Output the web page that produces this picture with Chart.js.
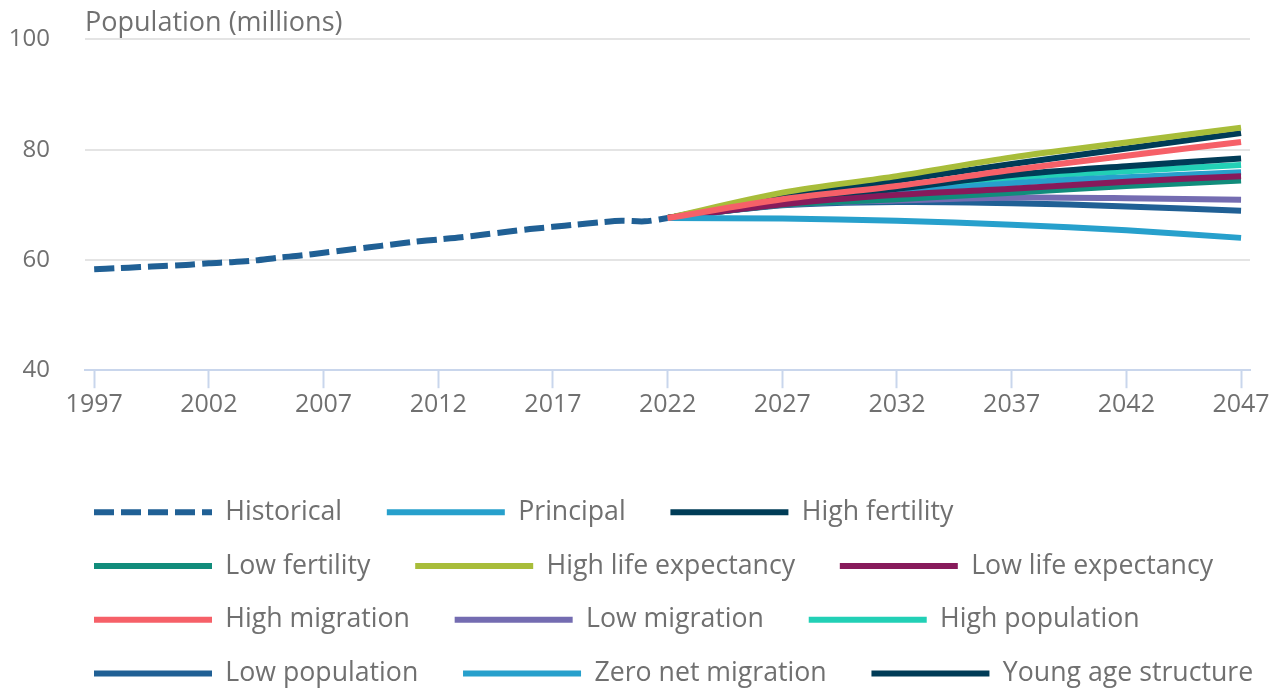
<!DOCTYPE html>
<html>
<head>
<meta charset="utf-8">
<script src="https://cdn.jsdelivr.net/npm/chart.js@4"></script>
<style>
  html, body { margin: 0; padding: 0; background: #fff; }
  #wrap { width: 1277px; height: 690px; }
</style>
</head>
<body>
<div id="wrap"><canvas id="myChart"></canvas></div>
<script>
// population, millions
const histYears = [1997, 1998, 1999, 2000, 2001, 2002, 2003, 2004, 2005, 2006, 2007, 2008, 2009,
  2010, 2011, 2012, 2013, 2014, 2015, 2016, 2017, 2018, 2019, 2020, 2021, 2022];
const historical = [58.3, 58.5, 58.7, 58.9, 59.1, 59.4, 59.6, 59.9, 60.4, 60.8, 61.3, 61.8, 62.3,
  62.8, 63.3, 63.7, 64.1, 64.6, 65.1, 65.6, 66.0, 66.4, 66.8, 67.1, 67.0, 67.6];

const projYears = [2022, 2027, 2032, 2037, 2042, 2047];
const principal = [67.6, 70.5, 72.2, 73.9, 75.0, 75.9];
const highFertility = [67.6, 70.8, 72.9, 75.4, 77.0, 78.4];
const lowFertility = [67.6, 70.0, 71.0, 72.2, 73.4, 74.4];
const highLifeExp = [67.6, 72.2, 75.2, 78.6, 81.3, 84.0];
const lowLifeExp = [67.6, 70.1, 71.8, 72.9, 74.2, 75.2];
const highMigration = [67.6, 71.0, 73.4, 76.3, 78.9, 81.4];
const lowMigration = [67.6, 70.0, 70.8, 71.3, 71.2, 70.9];
const highPopulation = [67.6, 70.8, 73.0, 74.9, 76.1, 77.2];
const lowPopulation = [67.6, 69.9, 70.5, 70.3, 69.7, 68.9];
const zeroNetMigration = [67.6, 67.5, 67.1, 66.4, 65.4, 64.0];
const youngAgeStructure = [67.6, 71.6, 74.4, 77.4, 80.2, 83.0];

const tickYears = [1997, 2002, 2007, 2012, 2017, 2022, 2027, 2032, 2037, 2042, 2047];
const yTicks = [40, 60, 80, 100];

const textColor = "#707070";
const fontFamily = "'Open Sans', sans-serif";

const toPoints = (xs, ys) => xs.map((x, i) => ({ x: x, y: ys[i] }));

const proj = (label, values, color, order) => ({
  label: label,
  data: toPoints(projYears, values),
  borderColor: color,
  backgroundColor: color,
  borderWidth: 6,
  pointRadius: 0,
  tension: 0.3,
  order: order,
});

// move the legend block so rows start under the plot, like the original
const legendShift = {
  id: "legendShift",
  afterLayout(chart) {
    const lg = chart.legend;
    const h = lg.height;
    lg.left = 67;
    lg.right = 1313;
    lg.top = 472;
    lg.bottom = lg.top + h;
  },
};

const ctx = document.getElementById("myChart").getContext("2d");

const myChart = new Chart(ctx, {
  type: "line",
  data: {
    datasets: [
      {
        label: "Historical",
        data: toPoints(histYears, historical),
        borderColor: "#206095",
        backgroundColor: "#206095",
        borderWidth: 6,
        borderDash: [20, 7],
        pointRadius: 0,
        tension: 0.3,
        order: 5,
      },
      proj("Principal", principal, "#27a0cc", 8),
      proj("High fertility", highFertility, "#003c57", 7),
      proj("Low fertility", lowFertility, "#118c7b", 9),
      proj("High life expectancy", highLifeExp, "#a8bd3a", 4),
      proj("Low life expectancy", lowLifeExp, "#871a5b", 3),
      proj("High migration", highMigration, "#f66068", 1),
      proj("Low migration", lowMigration, "#746cb1", 10),
      proj("High population", highPopulation, "#22d0b6", 12),
      proj("Low population", lowPopulation, "#206095", 11),
      proj("Zero net migration", zeroNetMigration, "#27a0cc", 2),
      proj("Young age structure", youngAgeStructure, "#003c57", 6),
    ],
  },
  options: {
    responsive: true,
    maintainAspectRatio: false,
    animation: false,
    devicePixelRatio: 1,
    layout: { padding: { left: 0, right: 27, top: 0, bottom: 0 } },
    scales: {
      x: {
        type: "linear",
        min: 1996.6,
        max: 2047.39,
        afterBuildTicks: (scale) => {
          scale.ticks = tickYears.map((v) => ({ value: v }));
        },
        afterFit: (scale) => {
          scale.height = 95;
        },
        grid: {
          drawOnChartArea: false,
          drawTicks: true,
          tickLength: 18,
          tickColor: "#c9d6ec",
          tickWidth: 2,
        },
        border: { display: true, color: "#c9d6ec", width: 2 },
        ticks: {
          color: textColor,
          font: { family: fontFamily, size: 25 },
          padding: 2,
          maxRotation: 0,
          autoSkip: false,
          callback: (v) => String(v),
        },
      },
      y: {
        min: 40,
        max: 100,
        afterBuildTicks: (scale) => {
          scale.ticks = yTicks.map((v) => ({ value: v }));
        },
        afterFit: (scale) => {
          scale.width = 85;
          scale.paddingTop = 13;
          scale.paddingBottom = 13;
        },
        grid: { color: "#e4e4e4", lineWidth: 2, drawTicks: false },
        border: { display: false },
        ticks: {
          color: textColor,
          font: { family: fontFamily, size: 24 },
          padding: 35,
        },
      },
    },
    plugins: {
      title: {
        display: true,
        text: "Population (millions)",
        align: "start",
        fullSize: false,
        color: textColor,
        font: { family: fontFamily, size: 27, weight: "normal" },
        padding: { top: 7, bottom: 0 },
      },
      tooltip: { enabled: false },
      legend: {
        position: "bottom",
        align: "start",
        labels: {
          usePointStyle: true,
          pointStyle: "line",
          pointStyleWidth: 118,
          padding: 27,
          color: textColor,
          font: { family: fontFamily, size: 26.7 },
          generateLabels: (chart) => {
            const items = Chart.defaults.plugins.legend.labels.generateLabels(chart);
            items.sort((a, b) => a.datasetIndex - b.datasetIndex);
            items.forEach((it) => {
              const ds = chart.data.datasets[it.datasetIndex];
              it.lineDash = ds.borderDash || [];
              it.lineWidth = ds.borderWidth;
              it.text = it.text + "\u2002\u2009";
            });
            return items;
          },
        },
      },
    },
  },
  plugins: [legendShift],
});
</script>
</body>
</html>
